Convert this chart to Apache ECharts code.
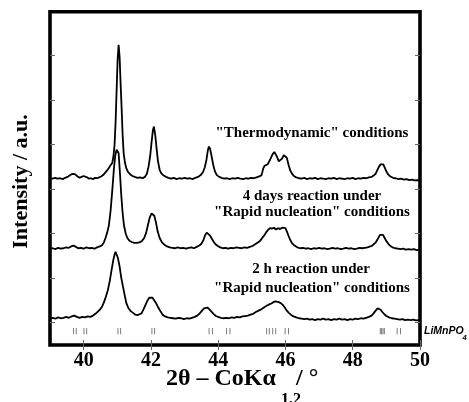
<!DOCTYPE html>
<html>
<head>
<meta charset="utf-8">
<script src="https://cdn.jsdelivr.net/npm/echarts@6/dist/echarts.min.js"></script>
<style>
  html, body { margin: 0; padding: 0; background: #fff; }
  #chart { width: 469px; height: 402px; }
</style>
</head>
<body>
<div id="chart"></div>
<script>
// XRD patterns (2θ, Co Kα1,2) of LiMnPO4 samples, offset vertically (arbitrary units).

// "Thermodynamic" conditions
const thermoPattern = [
  [39.00,374],[39.08,373],[39.15,375],[39.22,373],[39.30,374],[39.38,372],[39.45,375],[39.52,377],
  [39.58,380],[39.64,383],[39.70,384],[39.76,382],[39.82,378],[39.88,375],[39.94,377],[40.00,379],
  [40.05,380],[40.10,376],[40.16,373],[40.22,374],[40.28,372],[40.34,375],[40.40,374],[40.46,376],
  [40.52,378],[40.58,381],[40.63,385],[40.68,390],[40.74,396],[40.80,403],[40.85,408],[40.89,425],
  [40.92,450],[40.95,500],[40.98,570],[41.01,640],[41.04,673],[41.07,645],[41.10,585],[41.13,530],
  [41.16,470],[41.19,430],[41.23,408],[41.27,396],[41.32,388],[41.38,383],[41.45,379],[41.52,377],
  [41.60,375],[41.68,376],[41.75,374],[41.82,377],[41.88,384],[41.93,400],[41.98,425],[42.02,455],
  [42.06,482],[42.09,490],[42.13,470],[42.17,440],[42.21,412],[42.26,393],[42.31,385],[42.38,380],
  [42.45,377],[42.52,375],[42.60,373],[42.68,375],[42.76,372],[42.84,374],[42.92,373],[43.00,375],
  [43.08,373],[43.16,374],[43.24,372],[43.32,375],[43.40,377],[43.48,381],[43.55,388],[43.60,398],
  [43.65,415],[43.69,435],[43.72,445],[43.76,440],[43.80,425],[43.85,405],[43.90,390],[43.96,381],
  [44.03,377],[44.10,375],[44.18,373],[44.26,374],[44.34,372],[44.42,374],[44.50,373],[44.58,375],
  [44.66,373],[44.74,372],[44.82,374],[44.90,373],[44.98,375],[45.06,374],[45.14,376],[45.22,378],
  [45.29,381],[45.34,396],[45.38,402],[45.42,404],[45.47,405],[45.52,412],[45.57,420],[45.62,428],
  [45.67,433],[45.71,432],[45.75,422],[45.80,412],[45.85,410],[45.90,418],[45.95,426],[46.00,428],
  [46.04,420],[46.09,405],[46.14,392],[46.19,385],[46.25,379],[46.32,376],[46.40,374],[46.48,373],
  [46.56,375],[46.64,372],[46.72,374],[46.80,373],[46.88,375],[46.96,372],[47.04,374],[47.12,373],
  [47.20,372],[47.28,374],[47.36,373],[47.44,375],[47.52,372],[47.60,374],[47.68,373],[47.76,372],
  [47.84,374],[47.92,373],[48.00,375],[48.08,372],[48.16,374],[48.24,373],[48.32,375],[48.40,374],
  [48.48,376],[48.56,377],[48.62,380],[48.68,384],[48.73,392],[48.78,400],[48.83,405],[48.87,408],
  [48.91,405],[48.96,396],[49.01,388],[49.06,382],[49.12,378],[49.20,375],[49.28,374],[49.36,372],
  [49.44,373],[49.52,371],[49.60,372],[49.68,370],[49.76,371],[49.84,369],[49.92,370],[50.00,369]
];

// 4 days reaction under "Rapid nucleation" conditions
const fourDaysPattern = [
  [39.00,216],[39.08,217],[39.16,215],[39.24,218],[39.32,216],[39.40,217],[39.48,219],[39.56,218],
  [39.63,221],[39.70,223],[39.77,220],[39.84,217],[39.92,218],[40.00,216],[40.08,219],[40.16,217],
  [40.24,218],[40.32,216],[40.40,219],[40.48,221],[40.55,224],[40.60,230],[40.65,240],[40.70,252],
  [40.75,268],[40.80,300],[40.85,345],[40.90,395],[40.94,425],[40.98,438],[41.01,441],[41.04,430],
  [41.08,385],[41.12,335],[41.16,295],[41.20,268],[41.25,250],[41.30,240],[41.36,234],[41.43,231],
  [41.50,229],[41.58,229],[41.66,230],[41.73,233],[41.80,240],[41.86,252],[41.92,272],[41.97,287],
  [42.02,295],[42.06,296],[42.10,290],[42.15,275],[42.20,255],[42.26,240],[42.33,230],[42.40,225],
  [42.48,221],[42.56,219],[42.64,218],[42.72,217],[42.80,219],[42.88,217],[42.96,218],[43.04,216],
  [43.12,218],[43.20,219],[43.28,217],[43.36,220],[43.44,223],[43.50,227],[43.56,235],[43.61,246],
  [43.66,252],[43.70,251],[43.75,246],[43.80,240],[43.86,232],[43.92,226],[43.99,222],[44.06,219],
  [44.14,217],[44.22,218],[44.30,216],[44.38,218],[44.46,217],[44.54,219],[44.62,218],[44.70,217],
  [44.78,219],[44.86,218],[44.94,220],[45.02,222],[45.10,226],[45.18,230],[45.25,234],[45.30,238],
  [45.36,245],[45.42,252],[45.48,258],[45.54,262],[45.60,261],[45.66,263],[45.72,259],[45.78,262],
  [45.84,260],[45.90,263],[45.95,265],[46.00,262],[46.04,255],[46.09,245],[46.14,236],[46.20,228],
  [46.27,223],[46.35,219],[46.44,217],[46.52,218],[46.60,216],[46.68,217],[46.76,215],[46.84,217],
  [46.92,216],[47.00,218],[47.08,216],[47.16,217],[47.24,215],[47.32,216],[47.40,218],[47.48,216],
  [47.56,217],[47.64,215],[47.72,216],[47.80,218],[47.88,216],[47.96,217],[48.04,215],[48.12,216],
  [48.20,218],[48.28,217],[48.36,218],[48.44,219],[48.52,221],[48.58,223],[48.64,227],[48.70,232],
  [48.76,240],[48.81,247],[48.86,250],[48.90,247],[48.95,240],[49.00,233],[49.06,227],[49.12,222],
  [49.18,219],[49.26,217],[49.34,216],[49.42,215],[49.50,216],[49.58,214],[49.66,215],[49.74,214],
  [49.82,215],[49.90,213],[50.00,214]
];

// 2 h reaction under "Rapid nucleation" conditions
const twoHoursPattern = [
  [39.00,60],[39.08,61],[39.16,59],[39.24,62],[39.32,60],[39.40,61],[39.48,63],[39.56,61],
  [39.64,64],[39.72,66],[39.80,63],[39.88,61],[39.96,63],[40.04,62],[40.12,64],[40.20,63],
  [40.28,66],[40.35,70],[40.42,75],[40.48,79],[40.54,85],[40.60,95],[40.66,108],[40.72,123],
  [40.78,145],[40.83,168],[40.88,190],[40.92,203],[40.95,209],[40.98,207],[41.02,195],[41.07,176],
  [41.12,150],[41.17,131],[41.22,112],[41.27,94],[41.33,83],[41.40,76],[41.47,72],[41.54,68],
  [41.60,67],[41.66,69],[41.72,71],[41.78,80],[41.84,90],[41.90,100],[41.95,106],[42.00,108],
  [42.05,106],[42.10,100],[42.16,93],[42.22,84],[42.28,76],[42.35,68],[42.42,64],[42.50,62],
  [42.58,61],[42.66,60],[42.74,59],[42.82,61],[42.90,60],[42.98,58],[43.06,60],[43.14,59],
  [43.22,61],[43.30,63],[43.38,66],[43.45,71],[43.52,77],[43.58,82],[43.63,85],[43.68,84],
  [43.74,80],[43.80,75],[43.86,70],[43.93,65],[44.00,63],[44.08,61],[44.16,60],[44.24,61],
  [44.32,60],[44.40,62],[44.48,61],[44.56,63],[44.64,62],[44.72,64],[44.80,65],[44.88,66],
  [44.96,68],[45.04,70],[45.12,74],[45.20,77],[45.28,80],[45.36,84],[45.44,88],[45.52,91],
  [45.58,93],[45.64,96],[45.70,98],[45.75,99],[45.80,96],[45.86,94],[45.92,90],[45.98,84],
  [46.04,77],[46.10,72],[46.16,68],[46.24,64],[46.32,62],[46.40,60],[46.48,59],[46.56,58],
  [46.64,59],[46.72,57],[46.80,58],[46.88,56],[46.96,58],[47.04,57],[47.12,59],[47.20,57],
  [47.28,58],[47.36,56],[47.44,58],[47.52,57],[47.60,59],[47.68,57],[47.76,58],[47.84,56],
  [47.92,58],[48.00,57],[48.08,59],[48.16,58],[48.24,60],[48.32,59],[48.40,61],[48.48,63],
  [48.56,66],[48.62,71],[48.68,77],[48.74,82],[48.78,83],[48.83,79],[48.88,74],[48.94,69],
  [49.00,65],[49.08,62],[49.16,60],[49.24,59],[49.32,58],[49.40,57],[49.48,58],[49.56,56],
  [49.64,57],[49.72,56],[49.80,57],[49.88,55],[49.96,56],[50.00,56]
];

// Calculated LiMnPO4 reflection positions (2θ)
const refPositions = [
  39.70, 39.78, 40.01, 40.09, 41.02, 41.10, 42.03, 42.11,
  43.73, 43.83, 44.25, 44.35, 45.44, 45.52, 45.62, 45.71, 45.99, 46.09,
  48.82, 48.86, 48.90, 48.94, 49.32, 49.42
];

// Axis ticks
const xTicks = [40, 42, 44, 46, 48, 50];
const yTicks = [50, 150, 250, 350, 450, 550, 650];

const SERIF = '"Liberation Serif", "Times New Roman", serif';
const REF_LOW = 24, REF_HIGH = 38;

const chart = echarts.init(document.getElementById('chart'), null, { renderer: 'canvas' });

const tickStyle = { inside: true, length: 5, lineStyle: { color: '#666', width: 1 } };

const traceSeries = (data) => ({
  type: 'line',
  data: data,
  showSymbol: false,
  symbol: 'none',
  smooth: false,
  lineStyle: { color: '#000', width: 1.8 },
  xAxisIndex: 0,
  yAxisIndex: 0,
  z: 3
});

const text = (t, x, y, font, extra) => Object.assign({
  type: 'text', x: x, y: y,
  style: Object.assign({ text: t, font: font, fill: '#000', textAlign: 'center', textVerticalAlign: 'middle' }, extra || {})
});

const labelFont = 'bold 15px ' + SERIF;

chart.setOption({
  animation: false,
  backgroundColor: '#fff',
  grid: {
    left: 50, right: 49, top: 11.7, bottom: 57,
    show: true, borderColor: '#000', borderWidth: 3.6, backgroundColor: 'transparent'
  },
  xAxis: [
    {
      type: 'value', min: 39, max: 50,
      axisLine: { show: false }, splitLine: { show: false },
      axisTick: Object.assign({ customValues: xTicks }, tickStyle),
      axisLabel: {
        customValues: xTicks, color: '#000', margin: 6,
        fontFamily: SERIF, fontWeight: 'bold', fontSize: 20
      }
    },
    {
      type: 'value', min: 39, max: 50, position: 'top',
      axisLine: { show: false }, splitLine: { show: false },
      axisTick: Object.assign({ customValues: xTicks }, tickStyle),
      axisLabel: { show: false }
    }
  ],
  yAxis: [
    {
      type: 'value', min: 0, max: 747.5,
      axisLine: { show: false }, splitLine: { show: false },
      axisTick: Object.assign({ customValues: yTicks }, tickStyle),
      axisLabel: { show: false }
    },
    {
      type: 'value', min: 0, max: 747.5, position: 'right',
      axisLine: { show: false }, splitLine: { show: false },
      axisTick: Object.assign({ customValues: yTicks }, tickStyle),
      axisLabel: { show: false }
    }
  ],
  series: [
    traceSeries(thermoPattern),
    traceSeries(fourDaysPattern),
    traceSeries(twoHoursPattern),
    {
      type: 'custom',
      xAxisIndex: 0, yAxisIndex: 0,
      data: refPositions.map(p => [p]),
      renderItem: (params, api) => {
        const x = api.value(0);
        const a = api.coord([x, REF_LOW]);
        const b = api.coord([x, REF_HIGH]);
        return {
          type: 'line',
          shape: { x1: a[0], y1: a[1], x2: b[0], y2: b[1] },
          style: { stroke: '#7a7a7a', lineWidth: 1 }
        };
      },
      z: 2
    }
  ],
  graphic: [
    text('"Thermodynamic" conditions', 312, 133.5, labelFont),
    text('4 days reaction under', 312, 196, labelFont),
    text('"Rapid nucleation" conditions', 312, 212.5, labelFont),
    text('2 h reaction under', 311, 269.5, labelFont),
    text('"Rapid nucleation" conditions', 312, 288, labelFont),
    // y-axis title
    Object.assign(text('Intensity / a.u.', 21, 181.5, 'bold 22px ' + SERIF), { rotation: Math.PI / 2 }),
    // x-axis title with subscript
    text('2θ – CoKα', 166, 379, 'bold 24px ' + SERIF, { textAlign: 'left' }),
    text('1,2', 281, 399.5, 'bold 16px ' + SERIF, { textAlign: 'left' }),
    text('/ °', 296, 379, 'bold 24px ' + SERIF, { textAlign: 'left' }),
    // phase label for the reflection markers
    text('LiMnPO', 424, 331.5, 'italic bold 10.5px "Liberation Sans", Arial, sans-serif', { textAlign: 'left' }),
    text('4', 462.5, 337.5, 'italic bold 7.5px "Liberation Sans", Arial, sans-serif', { textAlign: 'left' })
  ]
});
</script>
</body>
</html>
